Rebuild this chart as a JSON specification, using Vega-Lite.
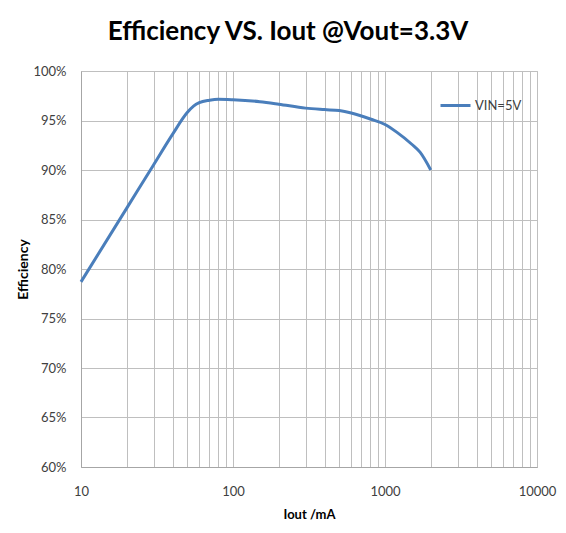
{
  "$schema": "https://vega.github.io/schema/vega-lite/v6.json",
  "autosize": "none",
  "width": 456,
  "height": 396,
  "padding": {"left": 81, "top": 71, "right": 29, "bottom": 66},
  "background": "white",
  "title": {
    "text": "Efficiency VS. Iout @Vout=3.3V",
    "font": "Lato",
    "fontSize": 26,
    "fontWeight": "bold",
    "color": "#000000",
    "anchor": "middle",
    "dx": -21,
    "offset": 20
  },
  "data": {
    "values": [
      {"iout": 10, "eff": 0.787, "series": "VIN=5V"},
      {"iout": 20, "eff": 0.8615, "series": "VIN=5V"},
      {"iout": 30, "eff": 0.9051, "series": "VIN=5V"},
      {"iout": 40, "eff": 0.936, "series": "VIN=5V"},
      {"iout": 50, "eff": 0.958, "series": "VIN=5V"},
      {"iout": 55, "eff": 0.9645, "series": "VIN=5V"},
      {"iout": 60, "eff": 0.968, "series": "VIN=5V"},
      {"iout": 70, "eff": 0.9705, "series": "VIN=5V"},
      {"iout": 80, "eff": 0.9715, "series": "VIN=5V"},
      {"iout": 100, "eff": 0.971, "series": "VIN=5V"},
      {"iout": 150, "eff": 0.969, "series": "VIN=5V"},
      {"iout": 200, "eff": 0.9665, "series": "VIN=5V"},
      {"iout": 300, "eff": 0.9625, "series": "VIN=5V"},
      {"iout": 400, "eff": 0.961, "series": "VIN=5V"},
      {"iout": 500, "eff": 0.960, "series": "VIN=5V"},
      {"iout": 600, "eff": 0.9575, "series": "VIN=5V"},
      {"iout": 700, "eff": 0.9545, "series": "VIN=5V"},
      {"iout": 800, "eff": 0.9515, "series": "VIN=5V"},
      {"iout": 1000, "eff": 0.946, "series": "VIN=5V"},
      {"iout": 1200, "eff": 0.938, "series": "VIN=5V"},
      {"iout": 1500, "eff": 0.926, "series": "VIN=5V"},
      {"iout": 1700, "eff": 0.918, "series": "VIN=5V"},
      {"iout": 2000, "eff": 0.900, "series": "VIN=5V"}
    ]
  },
  "mark": {"type": "line", "interpolate": "monotone", "strokeWidth": 3, "color": "#4A7EBB"},
  "encoding": {
    "x": {
      "field": "iout",
      "type": "quantitative",
      "scale": {"type": "log", "domain": [10, 10000], "nice": false},
      "axis": {
        "title": "Iout /mA",
        "values": [10,20,30,40,50,60,70,80,90,100,200,300,400,500,600,700,800,900,1000,2000,3000,4000,5000,6000,7000,8000,9000,10000],
        "labelExpr": "(datum.value==10||datum.value==100||datum.value==1000||datum.value==10000) ? datum.value : ''",
        "ticks": false,
        "labelPadding": 18,
        "labelFlush": false,
        "titlePadding": 10
      }
    },
    "y": {
      "field": "eff",
      "type": "quantitative",
      "scale": {"domain": [0.6, 1.0], "nice": false, "zero": false},
      "axis": {
        "title": "Efficiency",
        "format": ".0%",
        "values": [0.6,0.65,0.7,0.75,0.8,0.85,0.9,0.95,1.0],
        "ticks": false,
        "labelPadding": 15,
        "titlePadding": 2,
        "titleFontSize": 14
      }
    },
    "color": {
      "field": "series",
      "type": "nominal",
      "scale": {"range": ["#4A7EBB"]},
      "legend": {
        "title": null,
        "orient": "none",
        "legendX": 358,
        "legendY": 18,
        "symbolType": "stroke",
        "symbolSize": 900,
        "symbolStrokeWidth": 3,
        "labelFont": "Lato",
        "labelFontSize": 13,
        "labelColor": "#404040",
        "labelOffset": 3
      }
    }
  },
  "config": {
    "view": {"stroke": "#BFBFBF", "strokeWidth": 1},
    "axis": {
      "grid": true,
      "gridColor": "#BFBFBF",
      "gridWidth": 1,
      "gridOpacity": 1,
      "domainColor": "#A6A6A6",
      "labelFont": "Lato",
      "labelFontSize": 13,
      "labelColor": "#404040",
      "titleFont": "Lato",
      "titleFontSize": 13,
      "titleFontWeight": "bold",
      "titleColor": "#000000"
    }
  }
}
